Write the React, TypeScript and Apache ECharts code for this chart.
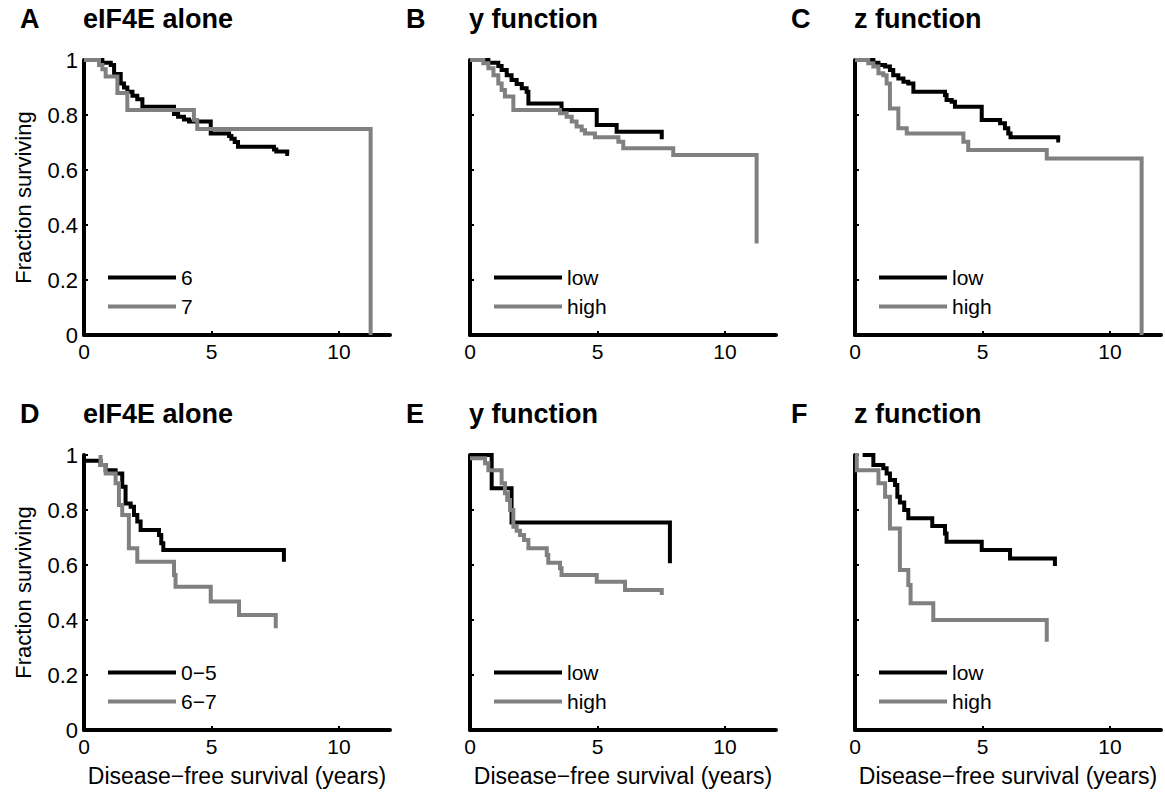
import React, { useEffect, useRef } from "react";
import * as echarts from "echarts";

// ---------- data ----------
const panelLetters = ["A", "B", "C", "D", "E", "F"];
const panelTitles = ["eIF4E alone", "y function", "z function", "eIF4E alone", "y function", "z function"];
const legendNames = [
  ["6", "7"],
  ["low", "high"],
  ["low", "high"],
  ["0\u22125", "6\u22127"],
  ["low", "high"],
  ["low", "high"],
];
const xTicks = [0, 5, 10];
const yTicks = [0, 0.2, 0.4, 0.6, 0.8, 1];
const xAxisTitle = "Disease\u2212free survival (years)";
const yAxisTitle = "Fraction surviving";

// Panel A: eIF4E alone (6 vs 7)
const curveA6 = [
  [0, 1], [0.72, 0.99], [1.05, 0.982], [1.18, 0.949], [1.44, 0.915], [1.57, 0.9],
  [1.7, 0.885], [1.9, 0.87], [2.09, 0.857], [2.29, 0.83], [3.53, 0.804], [3.69, 0.794],
  [3.92, 0.784], [4.12, 0.776], [4.97, 0.733], [5.69, 0.724], [5.78, 0.714], [5.91, 0.702],
  [6.04, 0.685], [7.45, 0.675], [7.54, 0.667], [7.97, 0.658], [8.04, 0.658],
];
const curveA7 = [
  [0, 1], [0.59, 0.982], [0.72, 0.966], [0.85, 0.94], [1.31, 0.88], [1.7, 0.818],
  [4.31, 0.782], [4.44, 0.749], [11.24, 0],
];

// Panel B: y function (low vs high)
const curveBLow = [
  [0, 1], [0.72, 0.99], [1.11, 0.978], [1.24, 0.964], [1.44, 0.945], [1.63, 0.927],
  [1.83, 0.913], [2.03, 0.897], [2.22, 0.885], [2.29, 0.842], [3.59, 0.818], [4.97, 0.764],
  [5.75, 0.739], [7.52, 0.712],
];
const curveBHigh = [
  [0, 1], [0.52, 0.988], [0.72, 0.97], [0.92, 0.945], [1.11, 0.915], [1.24, 0.891],
  [1.37, 0.867], [1.7, 0.818], [3.53, 0.806], [3.79, 0.794], [3.99, 0.776], [4.18, 0.758],
  [4.38, 0.745], [4.51, 0.733], [4.9, 0.719], [5.82, 0.703], [6.01, 0.679], [7.97, 0.655],
  [11.24, 0.333],
];

// Panel C: z function (low vs high)
const curveCLow = [
  [0, 1], [0.72, 0.99], [0.92, 0.982], [1.18, 0.976], [1.37, 0.964], [1.5, 0.945],
  [1.7, 0.933], [1.9, 0.921], [2.09, 0.915], [2.29, 0.885], [3.53, 0.873], [3.59, 0.855],
  [3.79, 0.848], [3.92, 0.83], [4.97, 0.782], [5.69, 0.77], [5.88, 0.752], [6.01, 0.733],
  [6.1, 0.719], [7.97, 0.707], [8.04, 0.707],
];
const curveCHigh = [
  [0, 1], [0.52, 0.988], [0.72, 0.976], [0.92, 0.952], [1.11, 0.945], [1.24, 0.915],
  [1.37, 0.824], [1.7, 0.752], [2.03, 0.733], [4.25, 0.703], [4.44, 0.673], [7.52, 0.642],
  [11.24, 0],
];

// Panel D: eIF4E alone (0-5 vs 6-7)
const curveD05 = [
  [0, 0.979], [0.65, 0.964], [0.85, 0.945], [1.24, 0.933], [1.5, 0.885], [1.63, 0.824],
  [1.83, 0.812], [1.96, 0.782], [2.09, 0.758], [2.22, 0.727], [2.94, 0.709], [3.03, 0.679],
  [3.11, 0.655], [7.84, 0.612],
];
const curveD67 = [
  [0.65, 1], [0.65, 0.964], [0.85, 0.933], [1.24, 0.897], [1.37, 0.818], [1.5, 0.782],
  [1.76, 0.661], [2.09, 0.612], [3.53, 0.564], [3.59, 0.521], [4.97, 0.467], [6.08, 0.418],
  [7.52, 0.37],
];

// Panel E: y function (low vs high)
const curveELow = [
  [0, 1], [0.85, 0.879], [1.63, 0.755], [7.84, 0.606],
];
const curveEHigh = [
  [0, 0.988], [0.59, 0.97], [0.72, 0.945], [1.24, 0.897], [1.37, 0.861], [1.46, 0.836],
  [1.57, 0.8], [1.7, 0.739], [1.83, 0.725], [1.96, 0.709], [2.12, 0.691], [2.29, 0.661],
  [3.01, 0.636], [3.07, 0.608], [3.53, 0.588], [3.59, 0.564], [4.97, 0.539], [6.08, 0.509],
  [7.52, 0.491],
];

// Panel F: z function (low vs high)
const curveFLow = [
  [0.3, 1], [0.72, 0.964], [1.11, 0.952], [1.24, 0.933], [1.37, 0.909], [1.57, 0.891],
  [1.66, 0.848], [1.76, 0.827], [1.93, 0.8], [2.09, 0.77], [3.03, 0.742], [3.53, 0.715],
  [3.59, 0.685], [4.97, 0.655], [6.08, 0.624], [7.84, 0.596],
];
const curveFHigh = [
  [0, 1], [0.07, 0.945], [0.92, 0.897], [1.18, 0.848], [1.37, 0.733], [1.76, 0.582],
  [2.09, 0.527], [2.18, 0.461], [3.07, 0.4], [7.52, 0.321],
];

const panelCurves = [
  [curveA6, curveA7],
  [curveBLow, curveBHigh],
  [curveCLow, curveCHigh],
  [curveD05, curveD67],
  [curveELow, curveEHigh],
  [curveFLow, curveFHigh],
];

// ---------- layout / style ----------
const FONT = "'Liberation Sans', Arial, Helvetica, sans-serif";
const COLORS = ["#000000", "#808080"];
const colLeft = [84, 470, 855];
const rowTop = [60, 455];
const gridW = 306;
const gridH = 275;

function buildOption() {
  const grids: any[] = [];
  const xAxes: any[] = [];
  const yAxes: any[] = [];
  const series: any[] = [];
  const titles: any[] = [];
  const legends: any[] = [];

  for (let i = 0; i < 6; i++) {
    const r = Math.floor(i / 3);
    const c = i % 3;
    const left = colLeft[c];
    const top = rowTop[r];
    grids.push({ left, top, width: gridW, height: gridH, outerBoundsMode: "none", containLabel: false });

    xAxes.push({
      type: "value",
      gridIndex: i,
      min: 0,
      max: 12,
      interval: 5,
      name: r === 1 ? xAxisTitle : "",
      nameLocation: "middle",
      nameGap: 34,
      nameTextStyle: { fontFamily: FONT, fontSize: 23, color: "#000" },
      axisLine: { show: true, onZero: false, lineStyle: { color: "#000", width: 4 } },
      axisTick: { show: true, inside: true, length: 4, customValues: xTicks, lineStyle: { color: "#000", width: 2 } },
      axisLabel: {
        show: true,
        customValues: xTicks,
        margin: 6,
        fontFamily: FONT,
        fontSize: 21,
        color: "#000",
        formatter: (v: number) => (xTicks.indexOf(v) >= 0 ? String(v) : ""),
      },
      splitLine: { show: false },
    });

    yAxes.push({
      type: "value",
      gridIndex: i,
      min: 0,
      max: 1,
      interval: 0.2,
      name: c === 0 ? yAxisTitle : "",
      nameLocation: "middle",
      nameGap: 50,
      nameTextStyle: { fontFamily: FONT, fontSize: 22, color: "#000" },
      axisLine: { show: true, onZero: false, lineStyle: { color: "#000", width: 4 } },
      axisTick: { show: true, inside: true, length: 4, customValues: yTicks, lineStyle: { color: "#000", width: 2 } },
      axisLabel: {
        show: c === 0,
        customValues: yTicks,
        margin: 6,
        fontFamily: FONT,
        fontSize: 22,
        color: "#000",
        formatter: (v: number) => String(Math.round(v * 10) / 10),
      },
      splitLine: { show: false },
    });

    panelCurves[i].forEach((curve, k) => {
      series.push({
        type: "line",
        name: legendNames[i][k],
        xAxisIndex: i,
        yAxisIndex: i,
        step: "end",
        symbol: "none",
        showSymbol: false,
        data: curve,
        color: COLORS[k],
        lineStyle: { color: COLORS[k], width: 4, join: "miter", cap: "butt" },
        z: 2 + k,
        silent: true,
      });
    });

    titles.push({
      text: panelLetters[i],
      left: left - 64,
      top: top - 55,
      padding: 0,
      textStyle: { fontFamily: FONT, fontSize: 27, fontWeight: "bold", color: "#000" },
    });
    titles.push({
      text: panelTitles[i],
      left: left - 1,
      top: top - 55,
      padding: 0,
      textStyle: { fontFamily: FONT, fontSize: 27, fontWeight: "bold", color: "#000" },
    });

    legends.push({
      data: legendNames[i].map((n) => ({ name: n, icon: "rect" })),
      orient: "vertical",
      left: left + 24,
      top: top + 207,
      padding: 0,
      itemWidth: 68,
      itemHeight: 4,
      itemGap: 8,
      selectedMode: false,
      textStyle: { fontFamily: FONT, fontSize: 21, color: "#000", lineHeight: 20 },
    });
  }

  return {
    animation: false,
    backgroundColor: "#ffffff",
    title: titles,
    legend: legends,
    grid: grids,
    xAxis: xAxes,
    yAxis: yAxes,
    series,
  };
}

export default function App() {
  const ref = useRef<HTMLDivElement>(null);
  useEffect(() => {
    document.body.style.margin = "0";
    if (!ref.current) return;
    const chart = echarts.init(ref.current, undefined, { renderer: "svg" });
    chart.setOption(buildOption() as any);
    return () => chart.dispose();
  }, []);
  return <div ref={ref} style={{ width: 1165, height: 796 }} />;
}
